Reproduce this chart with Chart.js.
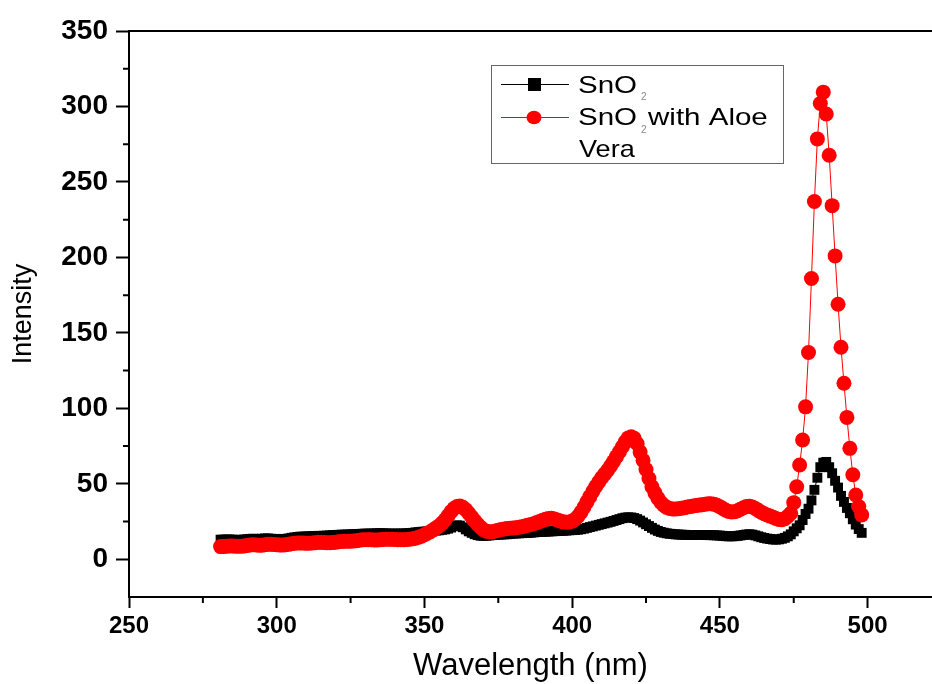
<!DOCTYPE html>
<html><head><meta charset="utf-8">
<script src="https://cdn.jsdelivr.net/npm/chart.js@4"></script>
<style>html,body{margin:0;padding:0;background:#fff;overflow:hidden}canvas{display:block}</style>
</head><body>
<canvas id="c" width="932" height="684"></canvas>
<script>
const wavelength = [
281,282,283,284,285,286,287,288,289,290,
291,292,293,294,295,296,297,298,299,300,
301,302,303,304,305,306,307,308,309,310,
311,312,313,314,315,316,317,318,319,320,
321,322,323,324,325,326,327,328,329,330,
331,332,333,334,335,336,337,338,339,340,
341,342,343,344,345,346,347,348,349,350,
351,352,353,354,355,356,357,358,359,360,
361,362,363,364,365,366,367,368,369,370,
371,372,373,374,375,376,377,378,379,380,
381,382,383,384,385,386,387,388,389,390,
391,392,393,394,395,396,397,398,399,400,
401,402,403,404,405,406,407,408,409,410,
411,412,413,414,415,416,417,418,419,420,
421,422,423,424,425,426,427,428,429,430,
431,432,433,434,435,436,437,438,439,440,
441,442,443,444,445,446,447,448,449,450,
451,452,453,454,455,456,457,458,459,460,
461,462,463,464,465,466,467,468,469,470,
471,472,473,474,475,476,477,478,479,480,
481,482,483,484,485,486,487,488,489,490,
491,492,493,494,495,496,497,498];

const snO2 = [
13.0,13.0,13.1,13.1,13.0,12.9,12.8,12.9,13.1,13.3,
13.5,13.6,13.5,13.4,13.6,13.8,13.8,13.6,13.4,13.5,
13.4,13.3,13.5,13.8,14.2,14.5,14.8,15.0,15.0,15.1,
15.2,15.3,15.4,15.5,15.5,15.6,15.7,15.8,16.0,16.1,
16.2,16.3,16.3,16.4,16.5,16.6,16.7,16.8,16.9,17.0,
17.0,17.0,17.1,17.2,17.3,17.2,17.1,17.0,17.0,17.0,
17.0,17.0,17.1,17.2,17.3,17.5,17.8,18.0,18.2,18.3,
18.5,18.7,18.8,19.0,19.2,19.5,19.8,20.3,21.0,21.8,
22.5,22.3,21.2,19.8,18.5,17.5,16.6,16.0,15.6,15.5,
15.6,15.8,16.0,16.2,16.3,16.4,16.5,16.6,16.8,17.0,
17.1,17.2,17.3,17.4,17.5,17.6,17.8,18.0,18.1,18.2,
18.3,18.4,18.5,18.6,18.7,18.8,18.9,19.0,19.2,19.3,
19.4,19.6,19.9,20.3,20.8,21.3,21.8,22.3,22.8,23.3,
23.8,24.3,24.8,25.4,26.0,26.6,27.2,27.6,27.8,27.7,
27.3,26.6,25.6,24.4,23.2,22.0,20.8,19.7,18.8,18.1,
17.6,17.2,16.9,16.7,16.5,16.4,16.3,16.2,16.1,16.1,
16.1,16.1,16.1,16.1,16.1,16.0,16.0,15.9,15.8,15.7,
15.5,15.3,15.2,15.2,15.3,15.5,15.8,16.1,16.4,16.6,
16.3,15.8,15.2,14.6,14.1,13.7,13.4,13.1,13.0,13.2,
13.6,14.2,15.2,16.5,18.5,20.5,22.5,26.0,30.0,33.5,
39.0,46.0,54.0,61.0,64.0,64.5,61.0,57.0,52.0,47.5,
42.0,38.0,34.0,30.5,26.5,23.0,20.0,17.5];

const snO2Aloe = [
8.4,8.5,8.7,8.8,8.8,8.7,8.6,8.6,8.8,9.2,
9.5,9.6,9.5,9.3,9.3,9.6,9.9,10.0,9.8,9.6,
9.5,9.4,9.6,9.9,10.3,10.6,10.8,10.8,10.7,10.6,
10.6,10.8,11.0,11.2,11.2,11.1,11.0,11.0,11.1,11.3,
11.6,11.8,11.9,12.0,12.0,12.1,12.3,12.6,12.9,13.0,
13.0,12.9,12.8,12.8,12.9,13.1,13.3,13.3,13.2,13.1,
13.0,13.0,13.0,13.1,13.3,13.6,14.0,14.6,15.3,16.2,
17.2,18.3,19.5,20.8,22.2,24.0,26.2,28.8,31.5,33.6,
35.0,35.3,34.5,32.8,30.5,28.0,25.5,23.2,21.2,19.6,
18.6,18.2,18.3,18.7,19.2,19.7,20.1,20.4,20.6,20.7,
20.9,21.2,21.6,22.0,22.5,23.0,23.6,24.3,25.0,25.8,
26.5,27.0,27.1,26.7,26.0,25.3,24.8,24.6,24.7,25.3,
26.5,28.5,31.2,34.5,38.0,41.5,45.0,48.2,51.2,54.0,
56.5,59.0,61.8,64.8,68.0,71.2,74.5,77.8,80.4,81.2,
80.2,76.5,71.0,65.5,59.5,53.5,48.0,44.0,40.5,37.8,
35.8,34.4,33.6,33.3,33.3,33.5,33.8,34.2,34.6,35.0,
35.3,35.6,35.9,36.2,36.5,36.7,36.8,36.5,35.8,34.8,
33.6,32.5,31.7,31.3,31.5,32.2,33.2,34.2,34.9,35.1,
34.6,33.6,32.4,31.2,30.2,29.4,28.6,27.8,27.0,26.4,
26.2,26.8,28.5,30.5,37.5,48.0,62.5,79.0,101.0,137.0,
186.0,237.0,278.5,302.0,309.5,295.0,267.7,234.3,201.0,169.0,
140.5,116.6,94.0,73.5,56.0,42.6,35.0,29.4];

const xTicks = [250,300,350,400,450,500];
const xMinorTicks = [275,325,375,425,475];
const yTicks = [0,50,100,150,200,250,300,350];
const yMinorTicks = [25,75,125,175,225,275,325];
const seriesLabels = ['SnO\u2082', 'SnO\u2082 with Aloe Vera'];

const FONT = '"Liberation Sans", Arial, Helvetica, sans-serif';

function pts(vals){ return wavelength.map((w,i)=>({x:w, y:vals[i]})); }

const framePlugin = {
  id:'frame',
  afterDraw(chart){
    const {ctx, chartArea:a, scales:{x, y}} = chart;
    ctx.save();
    ctx.strokeStyle = '#000';
    ctx.lineWidth = 2;
    ctx.beginPath();
    ctx.moveTo(a.left - 1, a.top);
    ctx.lineTo(a.right + 2, a.top);
    ctx.stroke();
    ctx.beginPath();
    xMinorTicks.forEach(v => { const px = x.getPixelForValue(v); ctx.moveTo(px, a.bottom); ctx.lineTo(px, a.bottom + 6); });
    yMinorTicks.forEach(v => { const py = y.getPixelForValue(v); ctx.moveTo(a.left, py); ctx.lineTo(a.left - 6, py); });
    ctx.stroke();
    ctx.restore();
  }
};

function txt(ctx, s, x, y, size, sx, color){
  ctx.save();
  ctx.translate(x, y);
  ctx.scale(sx, 1);
  ctx.font = size + 'px ' + FONT;
  ctx.fillStyle = color || '#000';
  ctx.textBaseline = 'alphabetic';
  ctx.textAlign = 'left';
  ctx.fillText(s, 0, 0);
  ctx.restore();
}

const legendPlugin = {
  id:'legendBox',
  afterDraw(chart){
    const ctx = chart.ctx;
    const ds = chart.data.datasets;
    ctx.save();
    ctx.strokeStyle = '#666';
    ctx.lineWidth = 1;
    ctx.strokeRect(491.5, 65.5, 292, 98);
    ctx.strokeStyle = ds[0].borderColor; ctx.lineWidth = 1;
    ctx.beginPath(); ctx.moveTo(501, 84.5); ctx.lineTo(569, 84.5); ctx.stroke();
    ctx.fillStyle = ds[0].backgroundColor;
    ctx.fillRect(528, 78, 13, 13);
    ctx.strokeStyle = ds[1].borderColor;
    ctx.beginPath(); ctx.moveTo(501, 117.5); ctx.lineTo(569, 117.5); ctx.stroke();
    ctx.fillStyle = ds[1].backgroundColor;
    ctx.beginPath(); ctx.ellipse(534, 117.5, 7.5, 6.8, 0, 0, Math.PI*2); ctx.fill();
    ctx.restore();
    txt(ctx, 'SnO', 578, 92.5, 24, 1.23);
    txt(ctx, '2', 641, 100, 10, 1, '#888');
    txt(ctx, 'SnO', 578, 125, 24, 1.23);
    txt(ctx, '2', 641, 133, 10, 1, '#888');
    txt(ctx, 'with Aloe', 648, 125, 24, 1.23);
    txt(ctx, 'Vera', 579, 157.3, 24, 1.13);
  }
};

new Chart(document.getElementById('c').getContext('2d'), {
  type:'line',
  data:{
    datasets:[
      {label:seriesLabels[0], data:pts(snO2), borderColor:'#000000', backgroundColor:'#000000',
       borderWidth:1, pointStyle:'rect', pointRadius:7, pointBorderWidth:0, order:2},
      {label:seriesLabels[1], data:pts(snO2Aloe), borderColor:'#ff0000', backgroundColor:'#ff0000',
       borderWidth:1, pointStyle:'circle', pointRadius:7.5, pointBorderWidth:0, order:1}
    ]
  },
  options:{
    responsive:false, animation:false, devicePixelRatio:1,
    layout:{autoPadding:false, padding:{left:0, top:31, right:0, bottom:0}},
    plugins:{legend:{display:false}, tooltip:{enabled:false}},
    elements:{line:{tension:0}},
    scales:{
      x:{
        type:'linear', min:250, max:521.8,
        afterFit:s=>{ s.height = 87; s.paddingRight = 0; s.paddingLeft = 0; },
        afterBuildTicks:s=>{ s.ticks = xTicks.map(v=>({value:v})); },
        grid:{drawOnChartArea:false, tickLength:11, tickWidth:2, tickColor:'#000'},
        border:{color:'#000', width:2},
        ticks:{color:'#000', font:{family:FONT, size:24, weight:'bold'}, padding:4, maxRotation:0, autoSkip:false},
        title:{display:true, text:'Wavelength (nm)', color:'#000', font:{family:FONT, size:31, lineHeight:1.1}, padding:0}
      },
      y:{
        type:'linear', min:-25, max:350,
        afterFit:s=>{ s.width = 129; },
        afterBuildTicks:s=>{ s.ticks = yTicks.map(v=>({value:v})); },
        grid:{drawOnChartArea:false, tickLength:13, tickWidth:2, tickColor:'#000'},
        border:{color:'#000', width:2},
        ticks:{color:'#000', font:{family:FONT, size:28, weight:'bold'}, padding:8, autoSkip:false},
        title:{display:true, text:'Intensity', color:'#000', font:{family:FONT, size:27, lineHeight:1.2}, padding:{top:7, bottom:0}}
      }
    }
  },
  plugins:[framePlugin, legendPlugin]
});
</script>
</body></html>
